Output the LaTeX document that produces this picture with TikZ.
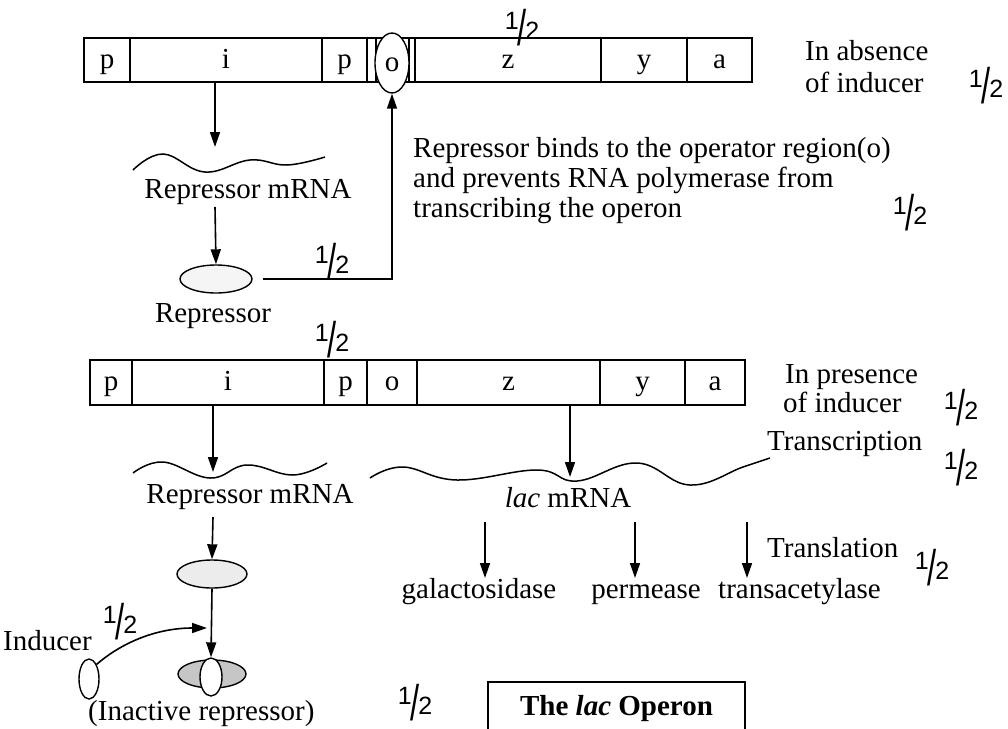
\documentclass[tikz,border=0pt]{standalone}
\usepackage{fontspec}
\setmainfont{Liberation Serif}
\setsansfont{Liberation Sans}
\usetikzlibrary{arrows.meta,shapes.geometric}

% slanted one-half mark used for the marking scheme
\newcommand\halfmark{\begingroup\sffamily\fontsize{25}{25}\selectfont
  \raisebox{10pt}{1}\kern-1pt\raisebox{-6pt}{\scalebox{1.3}[2.0]{/}}\kern-1.5pt 2\endgroup}

\begin{document}
\begin{tikzpicture}[x=1pt,y=-1pt,
  txt/.style={font=\fontsize{29}{31}\selectfont, inner sep=0pt},
  gene/.style={draw, line width=1.5pt, rectangle, minimum height=44pt,
    inner sep=0pt, font=\fontsize{29}{31}\selectfont,
    text height=18pt, text depth=2pt},
  arr/.style={line width=1.6pt, -{Triangle[length=15pt,width=10pt]}},
  wave/.style={line width=1.5pt},
  hf/.style={inner sep=0pt},
  blob/.style={draw, line width=1.4pt, ellipse, inner sep=0pt}]

\useasboundingbox (0,0) rectangle (1008,728);

% ---------- operon without inducer ----------
\node[gene, minimum width=46pt]  (tp1) at (107,60)   {p};
\node[gene, minimum width=192pt] (ti)  at (226,60)   {i};
\node[gene, minimum width=45pt]  (tp2) at (344.5,60) {p};
\node[gene, minimum width=48pt]  (to)  at (391,60)   {};
\node[gene, minimum width=186pt] (tz)  at (508,60)   {z};
\node[gene, minimum width=86pt]  (ty)  at (644,60)   {y};
\node[gene, minimum width=65pt]  (ta)  at (719.5,60) {a};
\draw[line width=1.5pt] (376,38) -- (376,82) (409,38) -- (409,82);
\node[blob, fill=white, minimum width=34pt, minimum height=60pt,
  font=\fontsize{29}{31}\selectfont, text height=18pt, text depth=2pt] (oval) at (392,63) {o};

\node[hf] (h1) at (522,28) {\halfmark};
\node[txt, anchor=base west] (abs1) at (805,60) {In absence};
\node[txt, anchor=base west] (abs2) at (805,92) {of inducer};
\node[hf] (h2) at (986,86) {\halfmark};

\coordinate (wt) at (215,147);
\draw[arr] (215,82) -- (wt);
\draw[wave] plot[smooth, tension=0.7] coordinates
  {(133,170) (163,154) (205,172) (250,160) (287,165) (325,157)};
\node[txt, anchor=base] (rmr1) at (248,198) {Repressor mRNA};

\node[blob, fill=gray!8, minimum width=72pt, minimum height=28pt] (rep) at (216,279) {};
\draw[arr] (215,207) -- (rep.north);
\node[txt, anchor=base] (replab) at (213,322) {Repressor};
\draw[arr] ([xshift=10pt]rep.east) -| (oval.south);
\node[hf] (h3) at (332,262) {\halfmark};

\node[txt, anchor=base west] (bind1) at (413,157) {Repressor binds to the operator region(o)};
\node[txt, anchor=base west] (bind2) at (413,187) {and prevents RNA polymerase from};
\node[txt, anchor=base west] (bind3) at (413,217) {transcribing the operon};
\node[hf] (h4) at (910,213) {\halfmark};

% ---------- operon with inducer ----------
\node[hf] (h5) at (332,340) {\halfmark};
\node[gene, minimum width=42pt, minimum height=45pt]  (bp1) at (111,382.5)   {p};
\node[gene, minimum width=192pt, minimum height=45pt] (bi)  at (228,382.5)   {i};
\node[gene, minimum width=43pt, minimum height=45pt]  (bp2) at (345.5,382.5) {p};
\node[gene, minimum width=50pt, minimum height=45pt]  (bo)  at (392,382.5)   {o};
\node[gene, minimum width=183pt, minimum height=45pt] (bz)  at (508.5,382.5) {z};
\node[gene, minimum width=85pt, minimum height=45pt]  (by)  at (642.5,382.5) {y};
\node[gene, minimum width=60pt, minimum height=45pt]  (ba)  at (715,382.5)   {a};

\node[txt, anchor=base west] (pres1) at (785,383) {In presence};
\node[txt, anchor=base west] (pres2) at (783,412) {of inducer};
\node[hf] (h6) at (961,408) {\halfmark};
\node[txt, anchor=base west] (trc) at (767,450) {Transcription};
\node[hf] (h7) at (961,468) {\halfmark};

\coordinate (wb) at (213,472);
\draw[arr] (213,405) -- (wb);
\draw[wave] plot[smooth, tension=0.7] coordinates
  {(133,473) (163,462) (210,478) (247,465) (293,475) (327,463)};
\node[txt, anchor=base] (rmr2) at (250,503) {Repressor mRNA};

\coordinate (wl) at (570,477);
\draw[arr] (570,405) -- (wl);
\draw[wave] plot[smooth, tension=0.7] coordinates
  {(370,478) (403,467) (457,480) (537,470) (577,481) (637,463) (690,485) (743,467) (770,458)};
\node[txt, anchor=base] (lacm) at (568,507) {\textit{lac} mRNA};

\node[txt, anchor=base] (gal) at (479,598) {galactosidase};
\node[txt, anchor=base] (perm) at (646,598) {permease};
\node[txt, anchor=base west] (trans) at (718,598) {transacetylase};
\draw[arr] (485,522) -- (485,578);
\draw[arr] (635,522) -- (635,578);
\draw[arr] (747,522) -- (747,578);
\node[txt, anchor=base west] (trl) at (767,557) {Translation};
\node[hf] (h8) at (932,568) {\halfmark};

% inducer binding the repressor
\node[blob, fill=gray!15, minimum width=70pt, minimum height=28pt] (rep2) at (212,574) {};
\draw[arr] (213,517) -- (rep2.north);
\node[blob, fill=gray!45, minimum width=68pt, minimum height=28pt] (inact) at (212,674) {};
\node[blob, fill=white, minimum width=22pt, minimum height=38pt] (indin) at (211,677) {};
\draw[arr] (rep2.south) -- (indin.north);
\node[blob, fill=white, minimum width=20pt, minimum height=40pt] (ind) at (89,679) {};
\node[txt, anchor=base west] (indlab) at (3,650) {Inducer};
\node[hf] (h9) at (120,622) {\halfmark};
\coordinate (meet) at (207,628);
\draw[arr] (ind.north east) .. controls (125,640) and (160,628) .. (meet);
\node[txt, anchor=base west] (inlab) at (88,720) {(Inactive repressor)};
\node[hf] (h10) at (415,703) {\halfmark};

% caption box
\node[draw, line width=1.5pt, minimum width=257pt, minimum height=54pt, inner sep=0pt,
  font=\fontsize{29}{31}\selectfont\bfseries] (cap) at (616.5,709) {The \textit{lac} Operon};
\end{tikzpicture}
\end{document}
